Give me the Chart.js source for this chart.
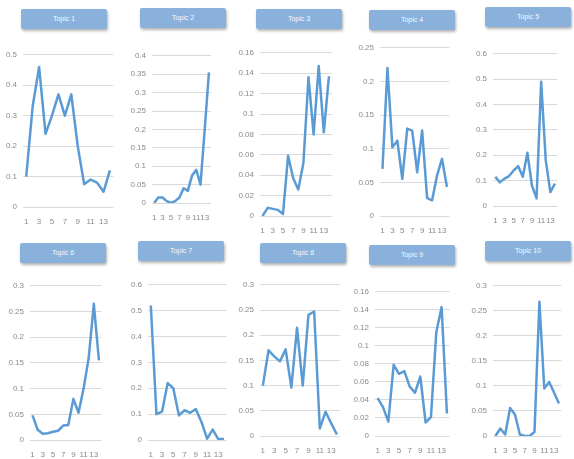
<!DOCTYPE html>
<html>
<head>
<meta charset="utf-8">
<script src="https://cdn.jsdelivr.net/npm/chart.js@4.4.1/dist/chart.umd.min.js"></script>
<style>
body {
    margin: 0;
    background: #fff;
    width: 574px;
    height: 459px;
    overflow: hidden;
    position: relative;
    font-family: 'Liberation Sans Narrow', 'Liberation Sans', sans-serif;
}
canvas { position: absolute; }
.title {
    position: absolute;
    width: 86px;
    height: 20px;
    background: #89b1dc;
    border-radius: 2px;
    box-shadow: 1px 2px 3px rgba(0, 0, 0, 0.3);
    color: #f4f8fc;
    font-size: 7px;
    line-height: 20px;
    text-align: center;
}
</style>
</head>
<body>
<script>
// Data
const categories = [1, 2, 3, 4, 5, 6, 7, 8, 9, 10, 11, 12, 13, 14];
const topicNames = ["Topic 1", "Topic 2", "Topic 3", "Topic 4", "Topic 5",
                    "Topic 6", "Topic 7", "Topic 8", "Topic 9", "Topic 10"];

const topic1 = [0.1, 0.33, 0.46, 0.24, 0.3, 0.37, 0.3, 0.37, 0.2, 0.075, 0.09, 0.08, 0.05, 0.12];
const topic2 = [0.0, 0.015, 0.015, 0.005, 0.0, 0.005, 0.015, 0.04, 0.033, 0.075, 0.09, 0.05, 0.2, 0.355];
const topic3 = [0.0, 0.008, 0.007, 0.006, 0.002, 0.059, 0.037, 0.026, 0.052, 0.136, 0.08, 0.147, 0.082, 0.137];
const topic4 = [0.07, 0.22, 0.102, 0.112, 0.055, 0.13, 0.127, 0.065, 0.127, 0.027, 0.023, 0.06, 0.085, 0.043];
const topic5 = [0.115, 0.093, 0.108, 0.118, 0.14, 0.157, 0.115, 0.21, 0.08, 0.03, 0.49, 0.18, 0.055, 0.088];
const topic6 = [0.048, 0.02, 0.012, 0.013, 0.016, 0.018, 0.028, 0.029, 0.08, 0.053, 0.1, 0.16, 0.265, 0.155];
const topic7 = [0.52, 0.1, 0.11, 0.22, 0.2, 0.095, 0.115, 0.105, 0.12, 0.07, 0.005, 0.04, 0.003, 0.005];
const topic8 = [0.1, 0.17, 0.158, 0.148, 0.172, 0.096, 0.215, 0.1, 0.24, 0.247, 0.015, 0.048, 0.025, 0.003];
const topic9 = [0.042, 0.032, 0.016, 0.079, 0.069, 0.072, 0.055, 0.048, 0.066, 0.015, 0.021, 0.115, 0.143, 0.025];
const topic10 = [0.0, 0.015, 0.003, 0.056, 0.043, 0.003, 0.0, 0.0, 0.008, 0.268, 0.095, 0.108, 0.087, 0.065];

const series = [topic1, topic2, topic3, topic4, topic5, topic6, topic7, topic8, topic9, topic10];

// y axis ticks
const yMax = [0.5, 0.4, 0.16, 0.25, 0.6, 0.3, 0.6, 0.3, 0.16, 0.3];
const yStep = [0.1, 0.05, 0.02, 0.05, 0.1, 0.05, 0.1, 0.05, 0.02, 0.05];

// Layout: plot area [left, right, top gridline, zero line] and title box [x, y]
const plotBoxes = [
    [23, 118, 52, 207], [152, 217, 53, 203], [260, 337, 50, 216], [380, 455, 45, 216], [493, 563, 51, 206],
    [30, 107, 283, 440], [148, 232, 282, 440], [260, 345, 282, 436], [375, 455, 289, 436], [493, 567, 283, 436]
];
const titleBoxes = [
    [21, 9], [140, 8], [256, 9], [369, 10], [485, 7],
    [20, 243], [138, 241], [260, 243], [369, 245], [485, 241]
];

const FONT = "'Liberation Sans Narrow', 'Liberation Sans', sans-serif";
const Y_AXIS_W = 26;
const X_AXIS_H = 20;
const PAD_TOP = 8;
const PAD_RIGHT = 2;

function drawTopic(i) {

    const [left, right, top, zero] = plotBoxes[i];

    const canvas = document.createElement("canvas");
    canvas.width = right - left + Y_AXIS_W + PAD_RIGHT;
    canvas.height = zero - top + PAD_TOP + X_AXIS_H;
    canvas.style.left = (left - Y_AXIS_W) + "px";
    canvas.style.top = (top - PAD_TOP) + "px";
    document.body.appendChild(canvas);

    const title = document.createElement("div");
    title.className = "title";
    title.style.left = titleBoxes[i][0] + "px";
    title.style.top = titleBoxes[i][1] + "px";
    title.textContent = topicNames[i];
    document.body.appendChild(title);

    new Chart(canvas, {
        type: "line",
        data: {
            labels: categories,
            datasets: [{
                data: series[i],
                borderColor: "#5b9bd5",
                borderWidth: 2.5,
                borderJoinStyle: "round",
                pointRadius: 0,
                tension: 0,
                fill: false
            }]
        },
        options: {
            responsive: false,
            animation: false,
            layout: { padding: { top: PAD_TOP, right: PAD_RIGHT, left: 0, bottom: 0 } },
            plugins: {
                legend: { display: false },
                tooltip: { enabled: false }
            },
            scales: {
                x: {
                    offset: true,
                    grid: { display: false, drawTicks: false },
                    border: { display: false },
                    ticks: {
                        autoSkip: false,
                        maxRotation: 0,
                        padding: 10,
                        color: "#8a8a8a",
                        font: { size: 8, family: FONT },
                        callback: (v, idx) => idx % 2 === 0 ? String(categories[idx]) : ""
                    },
                    afterFit: (s) => { s.height = X_AXIS_H; }
                },
                y: {
                    min: 0,
                    max: yMax[i],
                    grid: { color: "#d9d9d9", drawTicks: false, lineWidth: 1 },
                    border: { display: false },
                    ticks: {
                        stepSize: yStep[i],
                        padding: 6,
                        color: "#8a8a8a",
                        font: { size: 8, family: FONT },
                        callback: (v) => String(+Number(v).toFixed(3))
                    },
                    afterFit: (s) => { s.width = Y_AXIS_W; }
                }
            }
        }
    });
}

for (let i = 0; i < series.length; i++) {
    drawTopic(i);
}
</script>
</body>
</html>
